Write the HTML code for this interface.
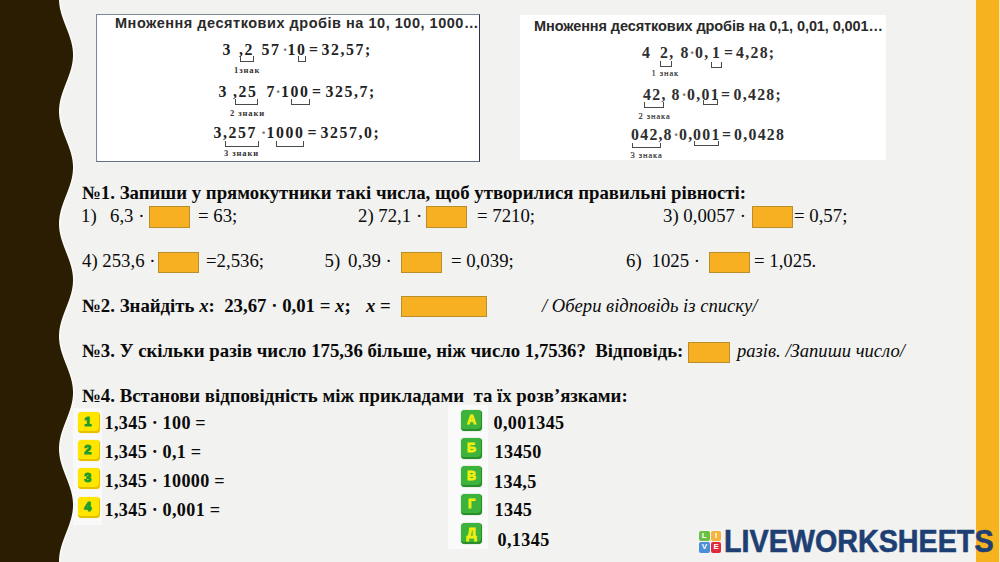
<!DOCTYPE html>
<html><head><meta charset="utf-8">
<style>
html,body{margin:0;padding:0;}
body{width:1000px;height:562px;overflow:hidden;position:relative;background:#f2f2f0;font-family:"Liberation Serif",serif;color:#0a0a0a;}
.a{position:absolute;white-space:pre;line-height:1;}
.h{font-weight:bold;font-size:18.8px;}
.r{font-size:18.8px;}
.it{font-style:italic;font-size:18.6px;}
.box{position:absolute;background:#f6b022;border:1px solid #b98f2c;box-sizing:border-box;}
.ttl{font-family:"Liberation Sans",sans-serif;font-weight:bold;color:#2a2a2a;}
.eqb{font-weight:bold;font-size:15.8px;letter-spacing:1.6px;color:#222;}
.eqr{font-size:15.8px;letter-spacing:1.3px;color:#2e2e2e;font-weight:bold;}
.lbl{font-size:8.5px;color:#333;font-weight:bold;letter-spacing:0.9px;}
.br{position:absolute;border:1px solid #4a4a4a;border-top:none;box-sizing:border-box;}
.yb{position:absolute;width:22px;height:21px;border-radius:4px;background:#ffe500;box-shadow:inset -1px -2px 0 #e6c000, 0 0 1px #f0d000;font-family:"Liberation Sans",sans-serif;font-weight:bold;color:#1c9e30;-webkit-text-stroke:1.2px #1c9e30;font-size:12.5px;text-align:center;line-height:20px;text-indent:-1.5px;}
.gb{position:absolute;width:21px;height:21px;border-radius:4px;background:#3cb33b;box-shadow:inset -1px -2px 0 #2a8c2a, 0 0 1px #3a9a3a;font-family:"Liberation Sans",sans-serif;font-weight:bold;color:#f2ee10;-webkit-text-stroke:0.9px #f2ee10;font-size:12.5px;text-align:center;line-height:20px;text-indent:0;}
.n{font-weight:bold;font-size:18.1px;letter-spacing:0.4px;word-spacing:-0.5px;}
</style></head>
<body>
<!-- left wave -->
<svg style="position:absolute;left:0;top:0" width="100" height="562" viewBox="0 0 100 562">
<path fill="#fbfbf8" transform="translate(1.6,0)" d="M0 0 L59.02 0 L59.11 2 L59.30 4 L59.57 6 L59.91 8 L60.34 10 L60.83 12 L61.39 14 L62.01 16 L62.67 18 L63.38 20 L64.12 22 L64.88 24 L65.66 26 L66.44 28 L67.22 30 L67.98 32 L68.71 34 L69.42 36 L70.07 38 L70.68 40 L71.23 42 L71.72 44 L72.13 46 L72.47 48 L72.73 50 L72.90 52 L72.99 54 L72.99 56 L72.90 58 L72.73 60 L72.47 62 L72.13 64 L71.72 66 L71.23 68 L70.68 70 L70.07 72 L69.42 74 L68.71 76 L67.98 78 L67.22 80 L66.44 82 L65.66 84 L64.88 86 L64.12 88 L63.38 90 L62.67 92 L62.01 94 L61.39 96 L60.83 98 L60.34 100 L59.91 102 L59.57 104 L59.30 106 L59.11 108 L59.02 110 L59.01 112 L59.08 114 L59.24 116 L59.49 118 L59.82 120 L60.22 122 L60.70 124 L61.24 126 L61.85 128 L62.50 130 L63.20 132 L63.93 134 L64.69 136 L65.46 138 L66.24 140 L67.02 142 L67.79 144 L68.53 146 L69.24 148 L69.91 150 L70.54 152 L71.10 154 L71.61 156 L72.04 158 L72.39 160 L72.67 162 L72.87 164 L72.98 166 L73.00 168 L72.93 170 L72.78 172 L72.54 174 L72.23 176 L71.83 178 L71.36 180 L70.83 182 L70.23 184 L69.58 186 L68.89 188 L68.16 190 L67.41 192 L66.63 194 L65.85 196 L65.07 198 L64.31 200 L63.56 202 L62.84 204 L62.17 206 L61.54 208 L60.96 210 L60.45 212 L60.01 214 L59.65 216 L59.36 218 L59.15 220 L59.03 222 L59.00 224 L59.06 226 L59.20 228 L59.42 230 L59.73 232 L60.12 234 L60.58 236 L61.10 238 L61.69 240 L62.33 242 L63.02 244 L63.74 246 L64.50 248 L65.27 250 L66.05 252 L66.83 254 L67.60 256 L68.35 258 L69.07 260 L69.75 262 L70.39 264 L70.97 266 L71.49 268 L71.94 270 L72.31 272 L72.61 274 L72.83 276 L72.96 278 L73.00 280 L72.96 282 L72.83 284 L72.61 286 L72.31 288 L71.94 290 L71.49 292 L70.97 294 L70.39 296 L69.75 298 L69.07 300 L68.35 302 L67.60 304 L66.83 306 L66.05 308 L65.27 310 L64.50 312 L63.74 314 L63.02 316 L62.33 318 L61.69 320 L61.10 322 L60.58 324 L60.12 326 L59.73 328 L59.42 330 L59.20 332 L59.06 334 L59.00 336 L59.03 338 L59.15 340 L59.36 342 L59.65 344 L60.01 346 L60.45 348 L60.96 350 L61.54 352 L62.17 354 L62.84 356 L63.56 358 L64.31 360 L65.07 362 L65.85 364 L66.63 366 L67.41 368 L68.16 370 L68.89 372 L69.58 374 L70.23 376 L70.83 378 L71.36 380 L71.83 382 L72.23 384 L72.54 386 L72.78 388 L72.93 390 L73.00 392 L72.98 394 L72.87 396 L72.67 398 L72.39 400 L72.04 402 L71.61 404 L71.10 406 L70.54 408 L69.91 410 L69.24 412 L68.53 414 L67.79 416 L67.02 418 L66.24 420 L65.46 422 L64.69 424 L63.93 426 L63.20 428 L62.50 430 L61.85 432 L61.24 434 L60.70 436 L60.22 438 L59.82 440 L59.49 442 L59.24 444 L59.08 446 L59.01 448 L59.02 450 L59.11 452 L59.30 454 L59.57 456 L59.91 458 L60.34 460 L60.83 462 L61.39 464 L62.01 466 L62.67 468 L63.38 470 L64.12 472 L64.88 474 L65.66 476 L66.44 478 L67.22 480 L67.98 482 L68.71 484 L69.42 486 L70.07 488 L70.68 490 L71.23 492 L71.72 494 L72.13 496 L72.47 498 L72.73 500 L72.90 502 L72.99 504 L72.99 506 L72.90 508 L72.73 510 L72.47 512 L72.13 514 L71.72 516 L71.23 518 L70.68 520 L70.07 522 L69.42 524 L68.71 526 L67.98 528 L67.22 530 L66.44 532 L65.66 534 L64.88 536 L64.12 538 L63.38 540 L62.67 542 L62.01 544 L61.39 546 L60.83 548 L60.34 550 L59.91 552 L59.57 554 L59.30 556 L59.11 558 L59.02 560 L59.01 562 L0 562 Z"/><path id="wave" fill="#2b1d02" d="M0 0 L59.02 0 L59.11 2 L59.30 4 L59.57 6 L59.91 8 L60.34 10 L60.83 12 L61.39 14 L62.01 16 L62.67 18 L63.38 20 L64.12 22 L64.88 24 L65.66 26 L66.44 28 L67.22 30 L67.98 32 L68.71 34 L69.42 36 L70.07 38 L70.68 40 L71.23 42 L71.72 44 L72.13 46 L72.47 48 L72.73 50 L72.90 52 L72.99 54 L72.99 56 L72.90 58 L72.73 60 L72.47 62 L72.13 64 L71.72 66 L71.23 68 L70.68 70 L70.07 72 L69.42 74 L68.71 76 L67.98 78 L67.22 80 L66.44 82 L65.66 84 L64.88 86 L64.12 88 L63.38 90 L62.67 92 L62.01 94 L61.39 96 L60.83 98 L60.34 100 L59.91 102 L59.57 104 L59.30 106 L59.11 108 L59.02 110 L59.01 112 L59.08 114 L59.24 116 L59.49 118 L59.82 120 L60.22 122 L60.70 124 L61.24 126 L61.85 128 L62.50 130 L63.20 132 L63.93 134 L64.69 136 L65.46 138 L66.24 140 L67.02 142 L67.79 144 L68.53 146 L69.24 148 L69.91 150 L70.54 152 L71.10 154 L71.61 156 L72.04 158 L72.39 160 L72.67 162 L72.87 164 L72.98 166 L73.00 168 L72.93 170 L72.78 172 L72.54 174 L72.23 176 L71.83 178 L71.36 180 L70.83 182 L70.23 184 L69.58 186 L68.89 188 L68.16 190 L67.41 192 L66.63 194 L65.85 196 L65.07 198 L64.31 200 L63.56 202 L62.84 204 L62.17 206 L61.54 208 L60.96 210 L60.45 212 L60.01 214 L59.65 216 L59.36 218 L59.15 220 L59.03 222 L59.00 224 L59.06 226 L59.20 228 L59.42 230 L59.73 232 L60.12 234 L60.58 236 L61.10 238 L61.69 240 L62.33 242 L63.02 244 L63.74 246 L64.50 248 L65.27 250 L66.05 252 L66.83 254 L67.60 256 L68.35 258 L69.07 260 L69.75 262 L70.39 264 L70.97 266 L71.49 268 L71.94 270 L72.31 272 L72.61 274 L72.83 276 L72.96 278 L73.00 280 L72.96 282 L72.83 284 L72.61 286 L72.31 288 L71.94 290 L71.49 292 L70.97 294 L70.39 296 L69.75 298 L69.07 300 L68.35 302 L67.60 304 L66.83 306 L66.05 308 L65.27 310 L64.50 312 L63.74 314 L63.02 316 L62.33 318 L61.69 320 L61.10 322 L60.58 324 L60.12 326 L59.73 328 L59.42 330 L59.20 332 L59.06 334 L59.00 336 L59.03 338 L59.15 340 L59.36 342 L59.65 344 L60.01 346 L60.45 348 L60.96 350 L61.54 352 L62.17 354 L62.84 356 L63.56 358 L64.31 360 L65.07 362 L65.85 364 L66.63 366 L67.41 368 L68.16 370 L68.89 372 L69.58 374 L70.23 376 L70.83 378 L71.36 380 L71.83 382 L72.23 384 L72.54 386 L72.78 388 L72.93 390 L73.00 392 L72.98 394 L72.87 396 L72.67 398 L72.39 400 L72.04 402 L71.61 404 L71.10 406 L70.54 408 L69.91 410 L69.24 412 L68.53 414 L67.79 416 L67.02 418 L66.24 420 L65.46 422 L64.69 424 L63.93 426 L63.20 428 L62.50 430 L61.85 432 L61.24 434 L60.70 436 L60.22 438 L59.82 440 L59.49 442 L59.24 444 L59.08 446 L59.01 448 L59.02 450 L59.11 452 L59.30 454 L59.57 456 L59.91 458 L60.34 460 L60.83 462 L61.39 464 L62.01 466 L62.67 468 L63.38 470 L64.12 472 L64.88 474 L65.66 476 L66.44 478 L67.22 480 L67.98 482 L68.71 484 L69.42 486 L70.07 488 L70.68 490 L71.23 492 L71.72 494 L72.13 496 L72.47 498 L72.73 500 L72.90 502 L72.99 504 L72.99 506 L72.90 508 L72.73 510 L72.47 512 L72.13 514 L71.72 516 L71.23 518 L70.68 520 L70.07 522 L69.42 524 L68.71 526 L67.98 528 L67.22 530 L66.44 532 L65.66 534 L64.88 536 L64.12 538 L63.38 540 L62.67 542 L62.01 544 L61.39 546 L60.83 548 L60.34 550 L59.91 552 L59.57 554 L59.30 556 L59.11 558 L59.02 560 L59.01 562 L0 562 Z"/>
</svg>
<!-- right stripe -->
<div style="position:absolute;left:970px;top:0;width:6px;height:562px;background:#f6f1e8"></div>
<div style="position:absolute;left:976px;top:0;width:23px;height:562px;background:#f7b21f"></div>
<div style="position:absolute;left:999px;top:0;width:1px;height:562px;background:#fbe6b0"></div>

<!-- left image -->
<div style="position:absolute;left:96px;top:14px;width:384px;height:148px;box-sizing:border-box;background:#fff;border:1.2px solid #7a8898;border-right:1.6px solid #2e3448;border-bottom-color:#66708a"></div>
<div class="a ttl" style="left:115px;top:16px;font-size:14.5px;letter-spacing:0.52px">Множення десяткових дробів на 10, 100, 1000…</div>

<!-- left eqs -->
<div class="a eqb" style="left:222.5px;top:41.5px">3</div>
<div class="a eqb" style="left:239px;top:41.5px">,2</div>
<div class="a eqb" style="left:261.5px;top:41.5px">57</div>
<div class="a eqr" style="left:282.5px;top:41.5px;color:#777;-webkit-text-stroke:0">·</div>
<div class="a eqb" style="left:287.5px;top:41.5px">10</div>
<div class="a eqb" style="left:309px;top:41.5px">=</div>
<div class="a eqb" style="left:321.5px;top:41.5px">32,57;</div>
<div class="br" style="left:240px;top:56px;width:14px;height:6px"></div>
<div class="br" style="left:298px;top:56px;width:8px;height:6px"></div>
<div class="a lbl" style="left:234px;top:65.5px">1знак</div>

<div class="a eqb" style="left:218.5px;top:84.3px">3</div>
<div class="a eqb" style="left:233px;top:84.3px">,25</div>
<div class="a eqb" style="left:266.5px;top:84.3px">7</div>
<div class="a eqr" style="left:275.5px;top:84.3px;color:#777;-webkit-text-stroke:0">·</div>
<div class="a eqb" style="left:281px;top:84.3px">100</div>
<div class="a eqb" style="left:312px;top:84.3px">=</div>
<div class="a eqb" style="left:325.5px;top:84.3px">325,7;</div>
<div class="br" style="left:235px;top:99px;width:23px;height:6px"></div>
<div class="br" style="left:291px;top:99px;width:19px;height:6px"></div>
<div class="a lbl" style="left:230px;top:108.5px">2 знаки</div>

<div class="a eqb" style="left:213.5px;top:125.0px">3</div>
<div class="a eqb" style="left:223px;top:125.0px">,257</div>
<div class="a eqr" style="left:261px;top:125.0px;color:#777;-webkit-text-stroke:0">·</div>
<div class="a eqb" style="left:266.5px;top:125.0px">1000</div>
<div class="a eqb" style="left:307.5px;top:125.0px">=</div>
<div class="a eqb" style="left:320.5px;top:125.0px">3257,0;</div>
<div class="br" style="left:225px;top:141px;width:34px;height:6px"></div>
<div class="br" style="left:276px;top:141px;width:28px;height:6px"></div>
<div class="a lbl" style="left:224px;top:148.5px">3 знаки</div>

<!-- right image -->
<div style="position:absolute;left:520px;top:15px;width:366px;height:145px;background:#fff"></div>
<div class="a ttl" style="left:534px;top:18.9px;font-size:14.5px;letter-spacing:-0.09px">Множення десяткових дробів на 0,1, 0,01, 0,001…</div>

<!-- right eqs -->
<div class="a eqr" style="left:642px;top:45.0px">4</div>
<div class="a eqr" style="left:660px;top:45.0px">2,</div>
<div class="a eqr" style="left:680.5px;top:45.0px">8</div>
<div class="a eqr" style="left:689.5px;top:45.0px;color:#777;-webkit-text-stroke:0">·</div>
<div class="a eqr" style="left:695px;top:45.0px">0,</div>
<div class="a eqr" style="left:712px;top:45.0px">1</div>
<div class="a eqr" style="left:724px;top:45.0px">=</div>
<div class="a eqr" style="left:736px;top:45.0px">4,28;</div>
<div class="br" style="left:660px;top:61px;width:12px;height:6px"></div>
<div class="br" style="left:711px;top:62px;width:11px;height:6px"></div>
<div class="a lbl" style="left:651.5px;top:68.5px;font-weight:normal;-webkit-text-stroke:0.2px #333">1 знак</div>

<div class="a eqr" style="left:643px;top:86.8px">42,</div>
<div class="a eqr" style="left:671.5px;top:86.8px">8</div>
<div class="a eqr" style="left:681.5px;top:86.8px;color:#777;-webkit-text-stroke:0">·</div>
<div class="a eqr" style="left:687px;top:86.8px">0,</div>
<div class="a eqr" style="left:701.5px;top:86.8px">01</div>
<div class="a eqr" style="left:721px;top:86.8px">=</div>
<div class="a eqr" style="left:733.5px;top:86.8px">0,428;</div>
<div class="br" style="left:644px;top:102px;width:20px;height:6px"></div>
<div class="br" style="left:703px;top:100px;width:15px;height:5px"></div>
<div class="a lbl" style="left:638.5px;top:111.5px;font-weight:normal;-webkit-text-stroke:0.2px #333">2 знака</div>

<div class="a eqr" style="left:631px;top:127.3px">042,</div>
<div class="a eqr" style="left:663.5px;top:127.3px">8</div>
<div class="a eqr" style="left:673.5px;top:127.3px;color:#777;-webkit-text-stroke:0">·</div>
<div class="a eqr" style="left:679px;top:127.3px">0,</div>
<div class="a eqr" style="left:693px;top:127.3px">001</div>
<div class="a eqr" style="left:722px;top:127.3px">=</div>
<div class="a eqr" style="left:734px;top:127.3px">0,0428</div>
<div class="br" style="left:632px;top:143px;width:29px;height:5px"></div>
<div class="br" style="left:694px;top:141px;width:25px;height:5px"></div>
<div class="a lbl" style="left:630.5px;top:151px;font-weight:normal;-webkit-text-stroke:0.2px #333">3 знака</div>

<!-- section 1 -->
<div class="a h" style="left:82px;top:184.3px">№1. Запиши у прямокутники такі числа, щоб утворилися правильні рівності:</div>

<div class="a r" style="left:81px;top:206.9px">1)</div>
<div class="a r" style="left:110px;top:206.9px">6,3 ·</div>
<div class="box" style="left:149px;top:206.4px;width:41px;height:21.2px"></div>
<div class="a r" style="left:198px;top:206.9px">= 63;</div>
<div class="a r" style="left:358px;top:206.9px">2) 72,1 ·</div>
<div class="box" style="left:426px;top:206.4px;width:41px;height:21.2px"></div>
<div class="a r" style="left:477px;top:206.9px">= 7210;</div>
<div class="a r" style="left:663px;top:206.9px">3) 0,0057 ·</div>
<div class="box" style="left:752px;top:206.4px;width:41px;height:21.2px"></div>
<div class="a r" style="left:794px;top:206.9px">= 0,57;</div>

<div class="a r" style="left:82px;top:252.3px">4) 253,6 ·</div>
<div class="box" style="left:158px;top:252px;width:41px;height:21px"></div>
<div class="a r" style="left:206px;top:252.3px">=2,536;</div>
<div class="a r" style="left:324.5px;top:252.3px">5)</div>
<div class="a r" style="left:348px;top:252.3px">0,39 ·</div>
<div class="box" style="left:401px;top:252px;width:41px;height:21px"></div>
<div class="a r" style="left:451px;top:252.3px">= 0,039;</div>
<div class="a r" style="left:626px;top:252.3px">6)</div>
<div class="a r" style="left:651.5px;top:252.3px">1025 ·</div>
<div class="box" style="left:709px;top:252px;width:41px;height:21px"></div>
<div class="a r" style="left:754px;top:252.3px">= 1,025.</div>

<!-- section 2 -->
<div class="a h" style="left:82px;top:297.3px">№2. Знайдіть <i>x</i>:  23,67 · 0,01 = <i>x</i>;</div>
<div class="a h" style="left:366px;top:297.3px"><i>x</i> =</div>
<div class="box" style="left:401px;top:296px;width:86px;height:21px"></div>
<div class="a it" style="left:542px;top:297px">/ Обери відповідь із списку/</div>

<!-- section 3 -->
<div class="a h" style="left:82px;top:341.9px">№3. У скільки разів число 175,36 більше, ніж число 1,7536?  Відповідь:</div>
<div class="box" style="left:688px;top:342px;width:42px;height:21px"></div>
<div class="a it" style="left:737px;top:342.3px">разів. /Запиши число/</div>

<!-- section 4 -->
<div class="a h" style="left:82px;top:386.9px">№4. Встанови відповідність між прикладами  та їх розв’язками:</div>

<div style="position:absolute;left:73px;top:408px;width:29px;height:117px;background:#f9f9f9"></div>
<div class="yb" style="left:77.5px;top:411.8px">1</div>
<div class="yb" style="left:77.5px;top:439.8px">2</div>
<div class="yb" style="left:77.5px;top:468px">3</div>
<div class="yb" style="left:77.5px;top:496.5px">4</div>
<div class="a n" style="left:104.5px;top:413.7px">1,345 · 100 =</div>
<div class="a n" style="left:104.5px;top:443.2px">1,345 · 0,1 =</div>
<div class="a n" style="left:104.5px;top:472.3px">1,345 · 10000 =</div>
<div class="a n" style="left:104.5px;top:501.0px">1,345 · 0,001 =</div>

<div style="position:absolute;left:448px;top:405px;width:40px;height:144px;background:#fafafa"></div>
<div class="gb" style="left:461px;top:409.8px">А</div>
<div class="gb" style="left:461px;top:437.8px">Б</div>
<div class="gb" style="left:461px;top:466px">В</div>
<div class="gb" style="left:461px;top:494px">Г</div>
<div class="gb" style="left:461px;top:522.5px;font-size:14px;line-height:21px">Д</div>
<div class="a n" style="left:493.5px;top:413.9px">0,001345</div>
<div class="a n" style="left:494.5px;top:443.1px">13450</div>
<div class="a n" style="left:494.0px;top:473.2px">134,5</div>
<div class="a n" style="left:494.5px;top:501.2px">1345</div>
<div class="a n" style="left:497.5px;top:531.4px">0,1345</div>

<!-- logo -->
<div style="position:absolute;left:699px;top:530.5px;width:10.6px;height:10.6px;background:#6cbf45;border-radius:2px;font:bold 8px/10.6px 'Liberation Sans',sans-serif;color:#fff;text-align:center">L</div>
<div style="position:absolute;left:710.8px;top:530.5px;width:10.6px;height:10.6px;background:#f4b53a;border-radius:2px;font:bold 8px/10.6px 'Liberation Sans',sans-serif;color:#fff;text-align:center">I</div>
<div style="position:absolute;left:699px;top:542px;width:10.6px;height:10.6px;background:#4a8fd8;border-radius:2px;font:bold 8px/10.6px 'Liberation Sans',sans-serif;color:#fff;text-align:center">V</div>
<div style="position:absolute;left:710.8px;top:542px;width:10.6px;height:10.6px;background:#e0283c;border-radius:2px;font:bold 8px/10.6px 'Liberation Sans',sans-serif;color:#fff;text-align:center">E</div>
<div class="a" style="left:723.5px;top:526px;font-family:'Liberation Sans',sans-serif;font-weight:bold;font-size:31px;color:#1e3f73;-webkit-text-stroke:0.6px #1e3f73;transform-origin:0 0;transform:scaleX(0.926)">LIVEWORKSHEETS</div>
</body></html>
